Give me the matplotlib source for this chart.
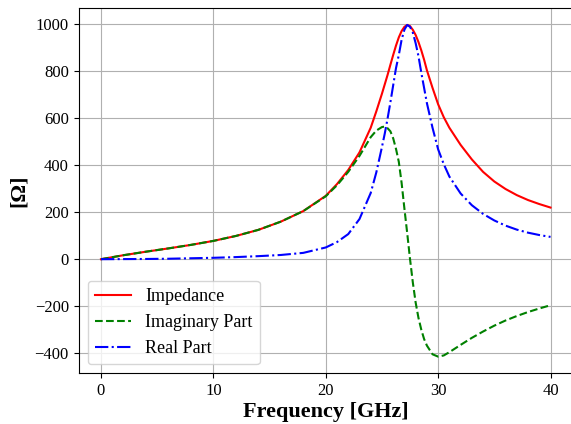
import numpy as np
import matplotlib
matplotlib.use('Agg')
import matplotlib.pyplot as plt

plt.rcParams['font.family'] = ['Liberation Serif', 'DejaVu Serif']

# frequency grid [GHz]
freq = [0, 2, 4, 6, 8, 10, 12, 14, 16, 18, 20, 21, 22, 23, 24, 24.5, 25,
        25.25, 25.5, 25.75, 26, 26.25, 26.5, 26.75, 27, 27.25, 27.5, 27.75,
        28, 28.25, 28.5, 28.75, 29, 29.5, 30, 30.5, 31, 32, 33, 34, 35, 36,
        37, 38, 39, 40]

# magnitude of impedance [Ohm]
impedance = [0, 17, 32, 46, 61, 78, 99, 125, 160, 205, 270, 320, 380, 455,
             560, 630, 705, 745, 785, 828, 870, 910, 945, 972, 990, 998, 993,
             977, 955, 925, 890, 850, 805, 730, 660, 605, 560, 487, 425, 372,
             331, 299, 273, 252, 235, 220]

# imaginary part [Ohm]
imag_part = [0, 17, 32, 46, 61, 78, 99, 125, 160, 205, 268, 315, 372, 440,
             520, 548, 563, 565, 558, 545, 515, 470, 415, 325, 215, 110, 0,
             -100, -185, -250, -300, -340, -368, -405, -415, -410, -396, -365,
             -335, -308, -283, -261, -242, -225, -210, -196]

# real part [Ohm]
real_part = [0, 0.5, 1, 2, 4, 6, 9, 13, 18, 27, 50, 73, 107, 171, 282, 370,
             478, 535, 599, 668, 741, 814, 870, 935, 978, 998, 990, 965, 920,
             865, 795, 730, 665, 560, 468, 405, 352, 280, 230, 193, 165, 143,
             126, 113, 103, 95]

fig = plt.figure(figsize=(5.71, 4.24), dpi=100)
ax = fig.add_axes([0.1375, 0.1196, 0.866, 0.862])

ax.plot(freq, impedance, 'r-', linewidth=1.5, label='Impedance')
ax.plot(freq, imag_part, 'g--', linewidth=1.5, label='Imaginary Part')
ax.plot(freq, real_part, 'b-.', linewidth=1.5, label='Real Part')

ax.set_xlim(-2, 42)
ax.set_ylim(-486, 1071)
ax.set_xticks([0, 10, 20, 30, 40])
ax.set_yticks([-400, -200, 0, 200, 400, 600, 800, 1000])
ax.tick_params(labelsize=12)
ax.spines['right'].set_visible(False)
ax.grid(True)

ax.set_xlabel('Frequency [GHz]', fontsize=16, fontweight='bold', labelpad=2)
ax.set_ylabel('[Ω]', fontsize=16, fontweight='bold')
ax.legend(loc='lower left', fontsize=13)

fig.savefig('out.png', dpi=100)
